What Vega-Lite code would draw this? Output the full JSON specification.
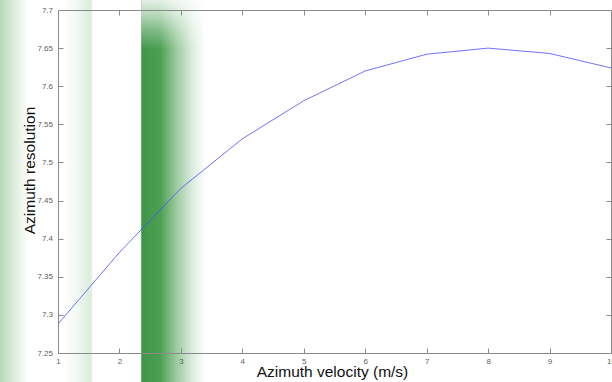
{
  "$schema": "https://vega.github.io/schema/vega-lite/v6.json",
  "width": 553,
  "height": 343,
  "autosize": "none",
  "padding": {"left": 58, "top": 10, "right": 1, "bottom": 29},
  "background": "#ffffff",
  "config": {
    "view": {"stroke": null},
    "font": "Liberation Sans",
    "axis": {
      "domainColor": "#8a8a8a",
      "tickColor": "#8a8a8a",
      "labelColor": "#606060",
      "labelFont": "Liberation Sans",
      "labelFontSize": 8,
      "titleFont": "Liberation Sans",
      "titleFontSize": 15.5,
      "titleFontWeight": "normal",
      "titleColor": "#111111",
      "grid": false,
      "tickSize": -5
    }
  },
  "datasets": {
    "curve": [
      {"v": 1, "r": 7.288},
      {"v": 2, "r": 7.382},
      {"v": 3, "r": 7.466},
      {"v": 4, "r": 7.531},
      {"v": 5, "r": 7.581},
      {"v": 6, "r": 7.620},
      {"v": 7, "r": 7.642},
      {"v": 8, "r": 7.650},
      {"v": 9, "r": 7.643},
      {"v": 10, "r": 7.624}
    ],
    "bands": [
      {"band": "a", "x0": 0.05, "x1": 0.52, "y0": 7.212, "y1": 7.713},
      {"band": "b", "x0": 1.07, "x1": 1.56, "y0": 7.212, "y1": 7.713},
      {"band": "c", "x0": 2.354, "x1": 3.4, "y0": 7.212, "y1": 7.713}
    ]
  },
  "resolve": {"axis": {"x": "independent", "y": "independent"}},
  "layer": [
    {
      "data": {"name": "bands"},
      "transform": [{"filter": "datum.band == 'a'"}],
      "mark": {"type": "rect", "clip": false, "fill": {"gradient": "linear", "x1": 0, "x2": 1, "y1": 0, "y2": 0, "stops": [{"offset": 0, "color": "#b5dab7"}, {"offset": 0.35, "color": "#cfe7d0"}, {"offset": 1, "color": "#ffffff"}]}},
      "encoding": {
        "x": {"field": "x0", "type": "quantitative", "axis": null, "scale": {"domain": [1, 10]}},
        "x2": {"field": "x1"},
        "y": {"field": "y0", "type": "quantitative", "axis": null, "scale": {"domain": [7.25, 7.7]}},
        "y2": {"field": "y1"}
      }
    },
    {
      "data": {"name": "bands"},
      "transform": [{"filter": "datum.band == 'b'"}],
      "mark": {"type": "rect", "clip": false, "fill": {"gradient": "linear", "x1": 0, "x2": 1, "y1": 0, "y2": 0, "stops": [{"offset": 0, "color": "#ffffff"}, {"offset": 0.5, "color": "#f2f8f2"}, {"offset": 0.9, "color": "#dbeddc"}, {"offset": 1, "color": "#e6f2e6"}]}},
      "encoding": {
        "x": {"field": "x0", "type": "quantitative", "axis": null},
        "x2": {"field": "x1"},
        "y": {"field": "y0", "type": "quantitative", "axis": null},
        "y2": {"field": "y1"}
      }
    },
    {
      "data": {"name": "bands"},
      "transform": [{"filter": "datum.band == 'c'"}],
      "mark": {"type": "rect", "clip": false, "fill": {"gradient": "linear", "x1": 0, "x2": 1, "y1": 0, "y2": 0, "stops": [{"offset": 0, "color": "#3e9648"}, {"offset": 0.3, "color": "#4c9f54"}, {"offset": 0.55, "color": "#9ccb9f"}, {"offset": 0.8, "color": "#dcede0"}, {"offset": 1, "color": "#ffffff"}]}},
      "encoding": {
        "x": {"field": "x0", "type": "quantitative", "axis": null},
        "x2": {"field": "x1"},
        "y": {"field": "y0", "type": "quantitative", "axis": null},
        "y2": {"field": "y1"}
      }
    },
    {
      "data": {"name": "bands"},
      "transform": [{"filter": "datum.band == 'c'"}],
      "mark": {"type": "rect", "clip": false, "fill": {"gradient": "linear", "x1": 0, "x2": 0, "y1": 0, "y2": 1, "stops": [{"offset": 0, "color": "rgba(255,255,255,0.85)"}, {"offset": 0.04, "color": "rgba(255,255,255,0.6)"}, {"offset": 0.08, "color": "rgba(255,255,255,0.3)"}, {"offset": 0.13, "color": "rgba(255,255,255,0)"}, {"offset": 1, "color": "rgba(255,255,255,0)"}]}},
      "encoding": {
        "x": {"field": "x0", "type": "quantitative", "axis": null},
        "x2": {"field": "x1"},
        "y": {"field": "y0", "type": "quantitative", "axis": null},
        "y2": {"field": "y1"}
      }
    },
    {
      "data": {"name": "curve"},
      "mark": {"type": "line", "color": "#4d4dff", "strokeWidth": 0.8},
      "encoding": {
        "x": {"field": "v", "type": "quantitative", "axis": {"orient": "bottom", "zindex": 2, "title": "Azimuth velocity (m/s)", "values": [1,2,3,4,5,6,7,8,9,10], "labelPadding": 9, "titleX": 274, "titleY": 23, "titleBaseline": "alphabetic", "titleAnchor": "middle", "labelFlush": false}},
        "y": {"field": "r", "type": "quantitative", "axis": {"orient": "left", "zindex": 2, "title": "Azimuth resolution", "format": "~g", "values": [7.25,7.3,7.35,7.4,7.45,7.5,7.55,7.6,7.65,7.7], "labelPadding": 10.5, "titleX": -24, "titleY": 160, "titleAngle": -90, "titleBaseline": "alphabetic", "titleAnchor": "middle", "labelFlush": false}}
      }
    },
    {
      "data": {"name": "curve"},
      "mark": {"type": "line", "opacity": 0},
      "encoding": {
        "x": {"field": "v", "type": "quantitative", "axis": {"orient": "top", "zindex": 2, "title": null, "labels": false, "values": [1,2,3,4,5,6,7,8,9,10]}},
        "y": {"field": "r", "type": "quantitative", "axis": {"orient": "right", "zindex": 2, "title": null, "labels": false, "values": [7.25,7.3,7.35,7.4,7.45,7.5,7.55,7.6,7.65,7.7]}}
      }
    }
  ]
}
